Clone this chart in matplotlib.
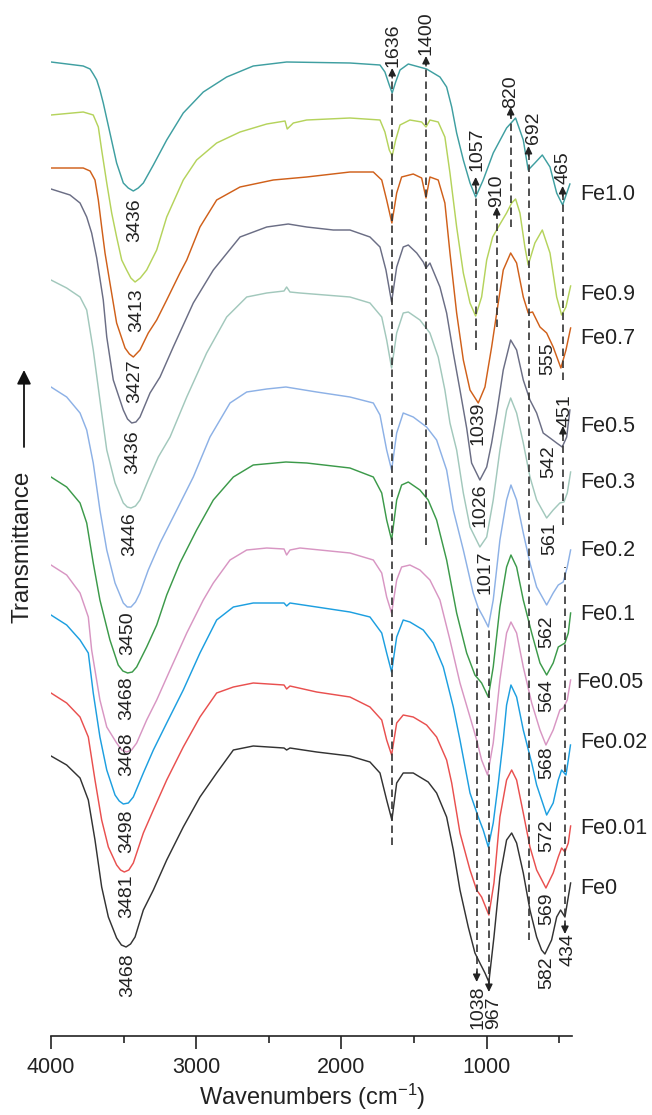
import matplotlib
matplotlib.use('Agg')
from matplotlib import pyplot as plt

plt.rcParams['font.family'] = ['Liberation Sans', 'DejaVu Sans']
plt.rcParams['mathtext.fontset'] = 'custom'
plt.rcParams['mathtext.rm'] = 'Liberation Sans'
plt.rcParams['mathtext.default'] = 'regular'

# spectra: wavenumber (cm-1) and stacked transmittance (a.u.)
fe10_wn = [4000, 3778, 3731, 3709, 3685, 3663, 3640, 3594, 3548, 3502, 3468, 3433, 3399, 3364, 3295,
           3203, 3089, 2951, 2790, 2607, 2377, 1941, 1734, 1700, 1670, 1650, 1626, 1596, 1539, 1413,
           1321, 1275, 1240, 1206, 1160, 1114, 1075, 1023, 954, 862, 800, 747, 713, 667, 616,
           563, 517, 476, 426]
fe10_t = [974, 970, 967, 962, 956, 946, 933, 903, 873, 853, 848, 845, 848, 853, 871,
          896, 923, 944, 959, 970, 974, 973, 971, 964, 951, 943, 954, 966, 972, 967,
          959, 949, 929, 903, 876, 853, 839, 856, 883, 908, 918, 896, 866, 873, 881,
          869, 843, 831, 852]

fe09_wn = [4000, 3778, 3709, 3674, 3651, 3616, 3582, 3548, 3513, 3479, 3450, 3421, 3385, 3341, 3272,
           3203, 3089, 2997, 2859, 2698, 2514, 2388, 2373, 2331, 2239, 1941, 1734, 1700, 1670, 1650,
           1626, 1596, 1528, 1447, 1417, 1390, 1333, 1287, 1252, 1206, 1160, 1114, 1075, 1034, 999,
           958, 919, 862, 827, 800, 770, 736, 713, 667, 616, 563, 517, 483, 453, 421]
fe09_t = [921, 924, 921, 909, 886, 853, 823, 799, 776, 766, 758, 754, 758, 766, 786,
          819, 856, 876, 893, 904, 912, 915, 907, 913, 916, 918, 916, 904, 886, 880,
          896, 911, 916, 914, 909, 916, 914, 899, 863, 809, 763, 733, 720, 739, 776,
          799, 809, 823, 833, 837, 823, 789, 771, 793, 806, 783, 739, 721, 729, 750]

fe07_wn = [4000, 3778, 3731, 3697, 3674, 3651, 3628, 3594, 3548, 3490, 3460, 3433, 3387, 3330, 3272,
           3203, 3112, 3065, 2974, 2859, 2698, 2469, 2239, 1941, 1780, 1722, 1688, 1652, 1619, 1585,
           1505, 1447, 1417, 1390, 1333, 1287, 1252, 1206, 1160, 1114, 1057, 1011, 965, 930, 885,
           834, 793, 747, 713, 683, 632, 586, 541, 488, 453, 421]
fe07_t = [868, 868, 865, 856, 836, 809, 783, 753, 713, 688, 682, 679, 686, 703, 716,
          736, 763, 776, 809, 836, 849, 856, 859, 864, 864, 856, 836, 813, 843, 859,
          862, 858, 838, 859, 856, 833, 783, 723, 676, 646, 633, 649, 689, 723, 766,
          783, 773, 739, 723, 724, 709, 703, 689, 668, 686, 708]

fe05_wn = [4000, 3869, 3800, 3754, 3720, 3685, 3640, 3616, 3571, 3502, 3473, 3444, 3415, 3387, 3318,
           3249, 3158, 3020, 2882, 2698, 2514, 2366, 2239, 2056, 1941, 1803, 1734, 1693, 1654, 1619,
           1574, 1539, 1481, 1436, 1417, 1390, 1321, 1275, 1229, 1183, 1137, 1103, 1046, 999, 965,
           930, 885, 834, 793, 747, 701, 655, 610, 563, 517, 479, 448, 426]
fe05_t = [847, 841, 833, 819, 803, 778, 736, 699, 656, 626, 617, 613, 614, 619, 643,
          659, 689, 733, 766, 799, 809, 812, 809, 806, 806, 799, 789, 766, 734, 769,
          789, 791, 783, 774, 768, 773, 749, 723, 683, 646, 608, 573, 556, 569, 593,
          623, 666, 696, 686, 656, 636, 623, 603, 598, 593, 589, 599, 626]

fe03_wn = [4000, 3892, 3800, 3754, 3709, 3663, 3616, 3559, 3502, 3475, 3449, 3418, 3387, 3330, 3261,
           3180, 3065, 2928, 2790, 2652, 2514, 2395, 2377, 2354, 2285, 1941, 1803, 1722, 1688, 1654,
           1619, 1574, 1539, 1459, 1390, 1333, 1287, 1252, 1206, 1160, 1114, 1046, 999, 954, 908,
           862, 834, 793, 747, 701, 655, 586, 541, 495, 467, 444, 421]
fe03_t = [756, 748, 739, 726, 686, 636, 586, 553, 533, 529, 528, 530, 536, 556, 579,
          599, 639, 683, 719, 739, 743, 745, 749, 744, 743, 739, 733, 719, 696, 668,
          703, 723, 724, 716, 703, 679, 646, 613, 586, 543, 509, 489, 499, 536, 586,
          626, 638, 623, 593, 559, 536, 518, 526, 533, 534, 543, 564]

fe02_wn = [4000, 3892, 3800, 3754, 3709, 3663, 3616, 3559, 3502, 3475, 3449, 3418, 3387, 3330, 3249,
           3134, 3020, 2905, 2767, 2652, 2514, 2382, 2170, 1941, 1780, 1734, 1688, 1654, 1619, 1574,
           1505, 1413, 1344, 1275, 1229, 1160, 1092, 1057, 1023, 988, 954, 908, 862, 832, 793,
           747, 701, 655, 586, 541, 506, 472, 444, 421]
fe02_t = [649, 639, 623, 606, 573, 526, 486, 453, 433, 429, 429, 434, 443, 466, 493,
          526, 559, 599, 633, 644, 647, 649, 644, 639, 633, 621, 586, 566, 603, 623,
          619, 609, 596, 566, 526, 486, 443, 428, 419, 409, 436, 496, 536, 551, 536,
          503, 473, 449, 431, 443, 451, 454, 469, 486]

fe01_wn = [4000, 3892, 3800, 3754, 3709, 3663, 3594, 3537, 3505, 3472, 3440, 3410, 3341, 3272, 3203,
           3112, 2997, 2882, 2744, 2607, 2382, 2239, 1941, 1780, 1722, 1688, 1654, 1619, 1585, 1539,
           1459, 1402, 1344, 1275, 1206, 1137, 1080, 1034, 988, 954, 908, 862, 832, 793, 747,
           689, 632, 586, 541, 506, 460, 437, 421]
fe01_t = [559, 549, 533, 513, 473, 436, 396, 371, 365, 363, 364, 369, 389, 411, 441,
          473, 506, 536, 559, 571, 574, 573, 568, 559, 543, 516, 496, 536, 551, 554,
          546, 536, 516, 476, 423, 383, 361, 353, 339, 369, 429, 469, 481, 469, 436,
          403, 373, 361, 373, 389, 393, 403, 423]

fe005_wn = [4000, 3892, 3800, 3743, 3720, 3663, 3616, 3548, 3513, 3479, 3445, 3410, 3341, 3272, 3180,
            3065, 2951, 2882, 2767, 2652, 2514, 2395, 2377, 2354, 2285, 1941, 1780, 1722, 1688, 1654,
            1619, 1585, 1528, 1459, 1390, 1321, 1252, 1183, 1114, 1068, 1034, 993, 954, 908, 862,
            832, 793, 747, 689, 632, 591, 541, 495, 472, 444, 421]
fe005_t = [471, 461, 443, 419, 386, 336, 309, 293, 286, 284, 286, 293, 316, 336, 366,
           403, 436, 453, 476, 486, 488, 487, 481, 486, 488, 483, 476, 463, 439, 423,
           456, 469, 471, 466, 456, 436, 396, 353, 319, 296, 276, 261, 293, 356, 403,
           414, 403, 369, 333, 306, 291, 306, 326, 328, 336, 356]

fe002_wn = [4000, 3892, 3800, 3743, 3709, 3663, 3616, 3559, 3530, 3502, 3467, 3433, 3364, 3295, 3203,
            3089, 2974, 2859, 2744, 2607, 2395, 2377, 2354, 2170, 1941, 1803, 1722, 1688, 1654, 1619,
            1574, 1528, 1436, 1367, 1298, 1229, 1183, 1114, 1057, 1023, 988, 954, 919, 885, 862,
            832, 793, 747, 689, 655, 586, 541, 506, 483, 453, 437, 422]
fe002_t = [421, 411, 396, 383, 343, 299, 266, 241, 235, 232, 233, 239, 263, 286, 313,
           346, 383, 416, 429, 433, 433, 430, 433, 429, 424, 419, 403, 383, 364, 399,
           416, 414, 406, 393, 369, 329, 296, 243, 219, 206, 189, 213, 253, 296, 331,
           351, 339, 306, 273, 251, 221, 233, 256, 266, 261, 276, 291]

fe001_wn = [4000, 3892, 3800, 3743, 3697, 3651, 3605, 3548, 3521, 3495, 3464, 3433, 3364, 3295, 3203,
            3089, 2974, 2859, 2744, 2607, 2395, 2377, 2354, 2170, 1941, 1803, 1722, 1688, 1654, 1619,
            1574, 1505, 1413, 1344, 1275, 1240, 1183, 1114, 1068, 1034, 984, 949, 908, 862, 827,
            793, 747, 701, 655, 591, 541, 506, 483, 460, 437, 421]
fe001_t = [343, 333, 319, 299, 256, 216, 189, 171, 166, 164, 166, 173, 203, 226, 256,
           289, 319, 343, 349, 353, 351, 347, 350, 344, 339, 329, 316, 296, 281, 313,
           321, 319, 311, 299, 276, 253, 203, 166, 146, 139, 121, 153, 219, 256, 266,
           256, 223, 189, 166, 148, 163, 179, 188, 184, 193, 210]

fe0_wn = [4000, 3892, 3800, 3743, 3697, 3651, 3605, 3548, 3515, 3483, 3452, 3421, 3364, 3295, 3203,
          3089, 2974, 2859, 2744, 2607, 2395, 2377, 2354, 2170, 1941, 1803, 1734, 1688, 1652, 1619,
          1574, 1505, 1402, 1344, 1275, 1229, 1183, 1126, 1080, 1046, 1011, 984, 949, 908, 862,
          827, 793, 747, 701, 655, 621, 598, 552, 517, 490, 460, 444, 421]
fe0_t = [280, 271, 258, 236, 196, 149, 119, 98, 91, 89, 92, 99, 126, 146, 176,
         209, 239, 263, 286, 290, 288, 286, 288, 284, 280, 274, 263, 236, 216, 253,
         263, 263, 254, 243, 219, 186, 146, 109, 83, 73, 63, 54, 99, 159, 196,
         203, 193, 163, 126, 99, 86, 82, 96, 119, 126, 119, 133, 153]

names = ['Fe1.0', 'Fe0.9', 'Fe0.7', 'Fe0.5', 'Fe0.3', 'Fe0.2', 'Fe0.1', 'Fe0.05', 'Fe0.02', 'Fe0.01', 'Fe0']
colors = ['#3f9fa1', '#b5d35c', '#d0601a', '#6b6e85', '#a2c8bc', '#8db1e6', '#3c9a4a', '#d896c3',
          '#1d9fe0', '#e9504f', '#333333']
spectra_wn = [fe10_wn, fe09_wn, fe07_wn, fe05_wn, fe03_wn, fe02_wn, fe01_wn, fe005_wn, fe002_wn, fe001_wn, fe0_wn]
spectra_t = [fe10_t, fe09_t, fe07_t, fe05_t, fe03_t, fe02_t, fe01_t, fe005_t, fe002_t, fe001_t, fe0_t]
name_wn = [357, 357, 357, 357, 357, 357, 357, 380, 357, 357, 357]
name_t = [841, 741, 698, 610, 554, 486, 421, 354, 293, 208, 148]

# peak position labels
peak_text = ['3436', '3413', '3427', '3436', '3446', '3450', '3468', '3468', '3498', '3481', '3468',
             '1636', '1400', '1057', '910', '820', '692', '465', '555', '1039', '451', '542',
             '1026', '561', '1017', '562', '564', '568', '572', '569', '582', '1038', '967', '434']
peak_wn = [3421, 3408, 3421, 3435, 3456, 3470, 3477, 3477, 3477, 3477, 3470,
           1645, 1414, 1066, 928, 832, 680, 474, 577, 1059, 460, 570,
           1046, 563, 1011, 584, 584, 584, 584, 584, 584, 1059, 949, 439]
peak_t = [816, 726, 655, 584, 502, 403, 338, 282, 205, 140, 61,
          991, 1003, 887, 845, 944, 908, 868, 677, 613, 625, 574,
          531, 497, 464, 404, 340, 273, 200, 127, 63, 29, 23, 86]

# dashed guide lines: position, lower end, upper end, arrow direction
dash_wn = [1650, 1417, 1075, 930, 834, 711, 476, 474, 1068, 984, 460]
dash_lo = [191, 491, 686, 709, 809, 96, 656, 511, 60, 50, 108]
dash_hi = [962, 974, 853, 823, 923, 884, 844, 604, 429, 409, 469]
dash_dir = ['up', 'up', 'up', 'up', 'up', 'up', 'up', 'up', 'down', 'down', 'down']

fig = plt.figure(figsize=(6.52, 11.15), dpi=100)
ax = fig.add_axes([51 / 652, 79 / 1115, 521.5 / 652, 1036 / 1115])

for wn, t, c in zip(spectra_wn, spectra_t, colors):
    ax.plot(wn, t, color=c, lw=1.05, solid_joinstyle='round')

for wn, lo, hi, d in zip(dash_wn, dash_lo, dash_hi, dash_dir):
    ax.plot([wn, wn], [lo, hi], color='#333333', lw=1.2, dashes=(4.5, 2.7))
    if d == 'up':
        tip, base = hi + 6, hi - 4
    else:
        tip, base = lo - 6, lo + 4
    ax.annotate('', xy=(wn, tip), xytext=(wn, base),
                arrowprops=dict(arrowstyle='-|>,head_length=0.45,head_width=0.22', mutation_scale=10,
                                color='#222222', lw=1.0, shrinkA=0, shrinkB=0))

for s, wn, t in zip(peak_text, peak_wn, peak_t):
    ax.text(wn, t, s, rotation=90, ha='center', va='center', fontsize=14, color='#222222')

for s, wn, t in zip(names, name_wn, name_t):
    ax.text(wn, t, s, ha='left', va='center', fontsize=15.5, color='#222222', clip_on=False)

ax.set_xlim(4000, 408)
ax.set_ylim(0, 1036)
for side in ['left', 'right', 'top']:
    ax.spines[side].set_visible(False)
ax.spines['bottom'].set_linewidth(1.2)
ax.spines['bottom'].set_color('#222222')
ax.set_yticks([])
ax.set_xticks([4000, 3000, 2000, 1000])
ax.set_xticks([3500, 2500, 1500, 500], minor=True)
ax.tick_params(axis='x', which='major', direction='out', length=9, width=1.2, pad=6,
               labelsize=15.5, colors='#222222')
ax.tick_params(axis='x', which='minor', direction='out', length=5, width=1.2, colors='#222222')
ax.set_xlabel('Wavenumbers (cm$^{-1}$)', fontsize=17, labelpad=3, color='#222222')

fig.text(23 / 652, 1 - 547 / 1115, 'Transmittance', rotation=90, ha='center', va='center',
         fontsize=17.5, color='#222222')
ax.annotate('', xy=(24 / 652, 1 - 370 / 1115), xycoords='figure fraction',
            xytext=(24 / 652, 1 - 447 / 1115), textcoords='figure fraction',
            arrowprops=dict(arrowstyle='-|>,head_length=0.6,head_width=0.3', mutation_scale=14,
                            color='#111111', lw=1.3, shrinkA=0, shrinkB=0))

plt.savefig('out.png', dpi=100)
